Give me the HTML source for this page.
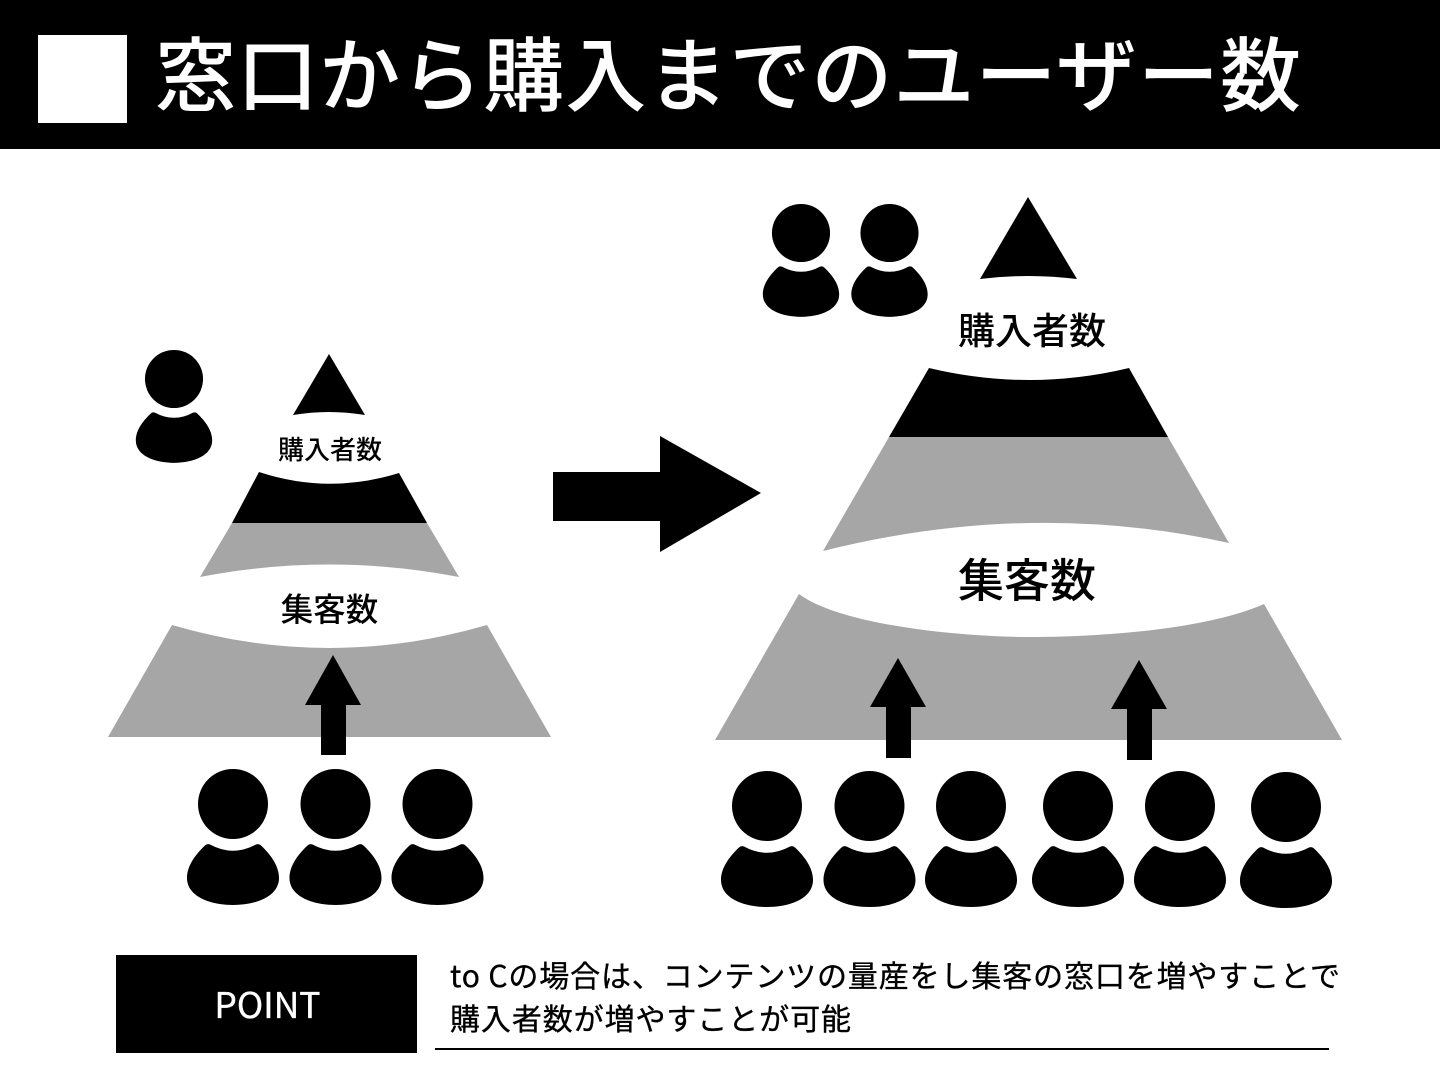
<!DOCTYPE html>
<html lang="ja">
<head>
<meta charset="utf-8">
<title>窓口から購入までのユーザー数</title>
<style>
html,body{margin:0;padding:0;background:#fff;width:1440px;height:1080px;overflow:hidden}
svg{display:block}
text{font-family:"Liberation Sans","Noto Sans CJK JP",sans-serif}
.j{font-family:"Noto Sans CJK JP","Liberation Sans",sans-serif;font-weight:500}
.r{font-weight:400;stroke:currentColor;stroke-width:.35px}
</style>
</head>
<body>
<svg width="1440" height="1080" viewBox="0 0 1440 1080" xmlns="http://www.w3.org/2000/svg">
<defs>
<g id="p">
<circle cx="0" cy="0" r="35"/>
<path d="M-28 41.500Q-26 39.500 -23 40.500Q0 53 23 40.500Q26 39.500 28 41.500C38 51 46 62 46 74C46 92 24 101 0 101C-24 101 -46 92 -46 74C-46 62 -38 51 -28 41.500Z"/>
</g>
</defs>
<rect width="1440" height="1080" fill="#fff"/>
<rect x="0" y="0" width="1440" height="149" fill="#000"/>
<rect x="38" y="35" width="89" height="88" fill="#fff"/>
<text class="j" x="155" y="105" font-size="81" fill="#fff" textLength="1146" lengthAdjust="spacing">窓口から購入までのユーザー数</text>

<!-- left pyramid -->
<path d="M329 354L365 415Q329 409 293 415Z"/>
<path d="M259 472Q329 495 399 473L427 523H232Z"/>
<path d="M232 523H427L459 577Q329 552 200 577Z" fill="#a6a6a6"/>
<path d="M172 625Q329 671 487 625L551 737H108Z" fill="#a6a6a6"/>
<path d="M333 655L361 705H346V755H321V705H305Z"/>
<text class="j" x="330" y="459" font-size="26" text-anchor="middle">購入者数</text>
<text class="j" x="329.500" y="621" font-size="32.500" text-anchor="middle">集客数</text>
<use href="#p" transform="translate(174 379) scale(.83)"/>
<use href="#p" x="233" y="804"/>
<use href="#p" x="335.500" y="804"/>
<use href="#p" x="437.500" y="804"/>

<!-- arrow -->
<path d="M553 472H660V436L761 493L660 552V521H553Z"/>

<!-- right pyramid -->
<path d="M1028 197L1077 279Q1028 273 980 279Z"/>
<path d="M929 368Q1029 392 1129 368L1168 437H889Z"/>
<path d="M889 437H1168L1229 543Q1030 499 823 551Z" fill="#a6a6a6"/>
<path d="M799 594C840 625 960 637 1030 637C1110 637 1210 628 1264 604L1342 740H715Z" fill="#a6a6a6"/>
<path d="M898 658L926 707H911V758H886V707H870Z"/>
<path d="M1139 660L1167 709H1152V760H1127V709H1111Z"/>
<text class="j" x="1032" y="344" font-size="37" text-anchor="middle">購入者数</text>
<text class="j" x="1027" y="597" font-size="46" text-anchor="middle">集客数</text>
<use href="#p" transform="translate(801 233) scale(.83)"/>
<use href="#p" transform="translate(889.500 233) scale(.83)"/>
<use href="#p" x="767" y="806"/>
<use href="#p" x="869.500" y="806"/>
<use href="#p" x="971" y="806"/>
<use href="#p" x="1078" y="806"/>
<use href="#p" x="1180" y="806"/>
<use href="#p" x="1286" y="807"/>

<!-- point -->
<rect x="116" y="955" width="301" height="98"/>
<text class="j r" x="267.500" y="1018" font-size="35.500" fill="#fff" color="#fff" text-anchor="middle">POINT</text>
<text class="j r" x="450" y="987" font-size="30" textLength="890" lengthAdjust="spacing" color="#000">to Cの場合は、コンテンツの量産をし集客の窓口を増やすことで</text>
<text class="j r" x="450" y="1030" font-size="30" textLength="401" lengthAdjust="spacing" color="#000">購入者数が増やすことが可能</text>
<rect x="435" y="1048" width="894" height="2"/>
</svg>
</body>
</html>
